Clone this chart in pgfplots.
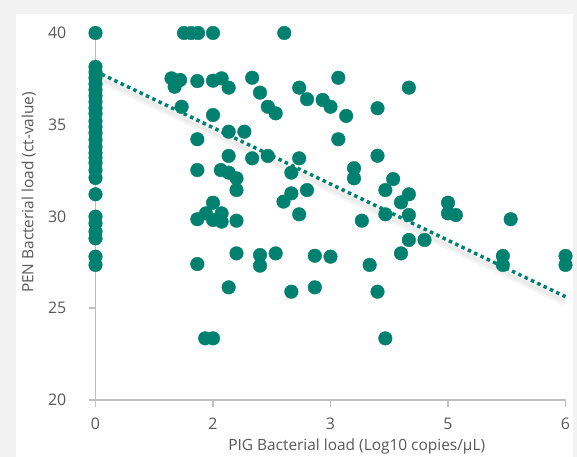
\documentclass[border=0pt]{standalone}
\usepackage{fontspec}
\setmainfont{Open Sans}
\usepackage{pgfplots}
\pgfplotsset{compat=1.18}
\definecolor{dotteal}{HTML}{00816F}
\definecolor{axgray}{HTML}{BFBFBF}
\definecolor{txtgray}{HTML}{595959}
\definecolor{bggray}{HTML}{F2F2F2}

% PIG load (x) vs PEN load (y)
\pgfplotstableread{
x y
0 40
0 38.15
0 37.87
0 37.55
0 37.22
0 36.90
0 36.57
0 36.24
0 35.90
0 35.60
0 35.20
0 34.88
0 34.55
0 34.17
0 33.79
0 33.46
0 33.19
0 32.92
0 32.53
0 32.10
0 31.21
0 29.99
0 29.63
0 29.17
0 28.81
0 27.81
0 27.36
1.13 40
1.22 40
1.31 40
1.50 40
2.41 40
0.97 37.53
1.08 37.44
1.01 37.07
1.30 37.38
1.50 37.40
1.61 37.53
1.70 37.02
2.00 37.56
2.10 36.75
2.20 35.98
2.30 35.62
2.60 37.02
2.70 36.39
2.90 36.35
3.00 35.98
3.10 37.56
3.20 35.48
3.60 35.90
4.00 37.02
1.10 35.98
1.50 35.53
1.70 34.62
1.90 34.62
1.30 34.21
3.10 34.21
1.70 33.30
2.00 33.17
2.20 33.30
2.60 33.17
3.60 33.31
1.30 32.53
1.60 32.53
1.70 32.39
1.80 32.08
1.80 31.44
2.50 32.39
3.30 32.63
3.30 32.08
3.80 32.04
2.70 31.44
2.50 31.26
3.70 31.44
4.00 31.21
2.40 30.81
1.50 30.75
3.90 30.77
4.50 30.75
1.30 29.85
1.41 30.17
1.50 29.81
1.61 30.17
1.61 29.72
1.80 29.77
2.60 30.12
3.40 29.77
3.70 30.12
4.00 30.08
4.50 30.17
4.60 30.08
5.30 29.85
4.00 28.72
4.20 28.72
1.80 27.99
2.10 27.90
2.10 27.32
2.30 27.99
2.80 27.86
3.00 27.81
3.90 27.99
3.50 27.36
1.30 27.41
5.20 27.85
5.20 27.36
6.00 27.85
6.00 27.36
1.70 26.14
2.50 25.90
2.80 26.14
3.60 25.90
1.40 23.36
1.50 23.36
3.70 23.36
}\loads

\begin{document}
\begin{tikzpicture}[x=1bp,y=1bp]
\useasboundingbox (0,0) rectangle (577,457);
\fill[bggray] (0,0) rectangle (577,457);
\fill[white] (16,0) rectangle (572.5,443);
\begin{axis}[at={(95.5bp,57bp)},anchor=south west,scale only axis,
  width=470bp,height=367bp,
  xmin=0,xmax=6,ymin=20,ymax=40,
  axis lines=left,
  axis line style={draw=axgray,line width=1.6bp,-},
  tick style={draw=axgray,line width=1.6bp},
  tick align=outside,major tick length=7bp,
  xtick={0,1.5,3,4.5,6},xticklabels={0,2,3,5,6},
  ytick={20,25,30,35,40},
  clip=false,
  tick label style={font=\fontsize{16}{19}\selectfont,text=txtgray,inner sep=0pt},
  yticklabel style={anchor=east,xshift=-22bp},
  xticklabel style={anchor=north,yshift=-11bp},
  /pgf/number format/assume math mode=true]
  % trendline shadow and trendline
  \addplot[gray,opacity=0.07,line width=9bp,yshift=-5bp,forget plot]
    coordinates {(0.08,37.75)(6,25.63)};
  \addplot[gray,opacity=0.08,line width=4bp,yshift=-5bp,forget plot]
    coordinates {(0.08,37.75)(6,25.63)};
  \addplot[dotteal,line width=3.5bp,dash pattern=on 3.5bp off 3.5bp]
    coordinates {(0.08,37.75)(6,25.63)};
  \addplot[only marks,mark=*,mark size=6.8bp,color=dotteal,
    mark options={draw=dotteal,fill=dotteal,line width=0.4bp}] table[x=x,y=y] {\loads};
\end{axis}
\node[rotate=90,anchor=base,inner sep=0pt,font=\fontsize{15.5}{18}\selectfont,text=txtgray]
  at (33.3,264.5) {PEN Bacterial load (ct-value)};
\node[anchor=base,inner sep=0pt,font=\fontsize{15.5}{18}\selectfont,text=txtgray]
  at (356.7,6.5) {PIG Bacterial load (Log10 copies/µL)};
\end{tikzpicture}
\end{document}
